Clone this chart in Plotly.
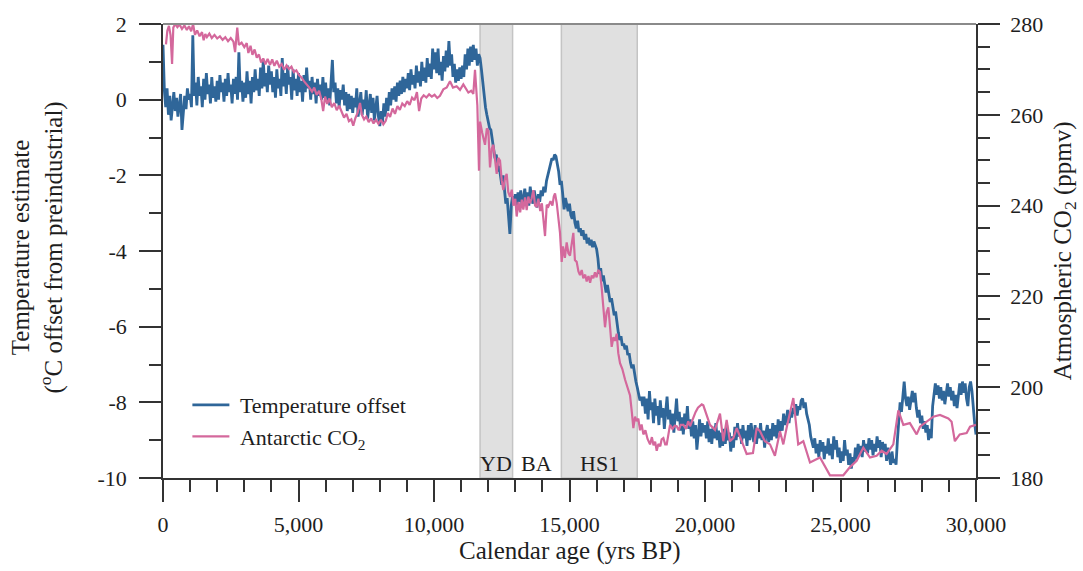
import plotly.graph_objects as go

# ---------------------------------------------------------------------------
# Temperature offset (deg C from preindustrial), sampled every 50 years
# ---------------------------------------------------------------------------
AGE_STEP = 50
temp_age = list(range(0, 30001, AGE_STEP))

temp_offset = [
    # 0 - 950
    1.45, 0.25, -0.2, 0.3, -0.4, 0.1, -0.55, -0.1, 0.2, -0.3, 0.05, -0.45, -0.1, 0.15, -0.8, -0.2, 0.1, -0.25, 0.3, 0.0,
    # 1000 - 1950
    0.15, -0.2, 1.7, 0.1, 0.45, -0.15, 0.6, 0.1, 0.35, -0.2, 0.55, 0.0, 0.7, 0.15, 0.4, -0.1, 0.6, 0.05, 0.35, -0.05,
    # 2000 - 2950
    0.5, 0.0, 0.65, 0.2, 0.45, -0.05, 0.55, 0.1, 0.7, 0.2, 0.4, -0.1, 0.55, 0.15, 0.6, 0.0, 1.25, 0.2, 0.5, -0.05,
    # 3000 - 3950
    0.45, 0.05, 0.75, 0.15, 0.5, -0.1, 0.6, 0.2, 0.8, 0.25, 0.55, 0.1, 0.85, 0.3, 1.05, 0.35, 0.7, 0.2, 0.9, 0.4,
    # 4000 - 4950
    0.75, 0.2, 0.6, 0.05, 0.8, 0.3, 0.55, 0.1, 1.1, 0.35, 0.7, 0.15, 0.9, 0.4, 0.6, 0.0, 0.8, 0.25, 0.55, 0.1,
    # 5000 - 5950
    0.7, 0.2, 0.5, -0.05, 0.65, 0.2, 0.85, 0.3, 0.5, 0.0, 0.6, 0.15, 0.45, -0.1, 0.55, 0.1, 0.4, 0.0, 0.6, 0.05,
    # 6000 - 6950
    0.45, -0.05, 0.3, -0.15, 0.5, 1.05, 0.2, 0.45, -0.1, 0.3, -0.2, 0.25, 0.0, 0.4, -0.15, 0.2, -0.3, 0.15, -0.25, 0.1,
    # 7000 - 7950
    -0.35, 0.05, -0.2, 0.3, -0.45, -0.05, 0.2, -0.4, 0.0, -0.25, 0.25, -0.5, -0.1, 0.15, -0.35, 0.05, -0.55, -0.2, 0.1, -0.45,
    # 8000 - 8950
    -0.7, -0.3, -0.6, -0.1, -0.45, 0.05, -0.3, 0.2, -0.15, 0.3, 0.0, 0.35, -0.05, 0.45, 0.1, 0.5, 0.15, 0.6, 0.2, 0.55,
    # 9000 - 9950
    0.3, 0.7, 0.25, 0.8, 0.4, 0.65, 0.3, 0.9, 0.45, 0.75, 0.35, 1.0, 0.5, 0.85, 0.45, 1.1, 0.6, 0.95, 0.55, 1.35,
    # 10000 - 10950
    0.8, 1.25, 0.7, 1.35, 0.65, 1.0, 0.5, 1.15, 0.75, 1.3, 0.85, 1.55, 0.9, 1.2, 0.6, 0.95, 0.45, 0.8, 0.5, 0.85,
    # 11000 - 11950
    0.55, 0.9, 0.6, 1.2, 0.8, 1.35, 0.9, 1.4, 1.0, 1.45, 1.05, 1.35, 0.9, 1.2, 1.1, 0.8, 0.45, 0.05, -0.2, -0.4,
    # 12000 - 12950
    -0.55, -0.75, -0.8, -1.1, -1.35, -1.55, -1.45, -1.9, -1.75, -2.05, -2.25, -2.0, -2.5, -2.75, -2.6, -3.1, -3.55, -2.8, -2.55, -2.75,
    # 13000 - 13950
    -2.5, -2.8, -2.45, -2.7, -2.4, -2.85, -2.55, -2.35, -2.7, -2.45, -2.8, -2.3, -2.6, -2.75, -2.4, -2.65, -2.85, -2.5, -2.7, -2.4,
    # 14000 - 14950
    -2.55, -2.3, -2.45, -2.15, -2.0, -1.85, -1.7, -1.55, -1.6, -1.45, -1.5, -1.7, -1.9, -2.25, -2.15, -2.5, -2.9, -2.6, -2.8, -2.95,
    # 15000 - 15950
    -2.75, -3.05, -3.15, -2.95, -3.25, -3.4, -3.2, -3.5, -3.4, -3.6, -3.45, -3.7, -3.55, -3.8, -3.65, -3.85, -3.7, -3.9, -3.75, -3.85,
    # 16000 - 16950
    -3.95, -4.2, -4.6, -4.45, -4.8, -4.65, -4.95, -5.1, -4.9, -5.2, -5.35, -5.25, -5.45, -5.7, -5.6, -5.95, -6.15, -6.35, -6.25, -6.5,
    # 17000 - 17950
    -6.45, -6.6, -6.5, -6.75, -6.7, -6.95, -7.1, -7.0, -7.3, -7.45, -7.6, -7.75, -7.95, -7.85, -8.1, -7.85, -8.3, -7.9, -8.45, -7.7,
    # 18000 - 18950
    -8.2, -8.0, -8.55, -7.9, -8.35, -8.1, -8.6, -7.95, -8.4, -8.15, -8.7, -8.25, -7.85, -8.45, -8.2, -8.65, -8.3, -8.8, -8.35, -7.9,
    # 19000 - 19950
    -8.5, -8.25, -8.75, -8.4, -8.85, -8.3, -8.6, -8.1, -8.7, -8.45, -8.9, -8.5, -8.95, -8.6, -9.25, -8.7, -8.45, -8.9, -8.55, -8.8,
    # 20000 - 20950
    -8.6, -8.95, -8.5, -9.05, -8.7, -9.1, -8.65, -8.95, -8.55, -9.0, -8.75, -9.2, -8.8, -9.15, -8.7, -9.1, -8.6, -9.0, -8.8, -9.3,
    # 21000 - 21950
    -8.9, -9.2, -8.65, -9.0, -8.55, -8.9, -8.7, -9.1, -8.6, -8.95, -8.75, -9.15, -8.6, -9.0, -8.55, -8.85, -9.05, -8.6, -9.1, -8.7,
    # 22000 - 22950
    -8.95, -8.55, -9.0, -8.75, -9.2, -8.8, -8.6, -9.05, -8.7, -9.0, -8.55, -8.9, -8.6, -8.95, -8.45, -8.8, -8.5, -8.75, -8.3, -8.6,
    # 23000 - 23950
    -8.45, -8.2, -8.55, -8.25, -8.4, -8.15, -8.3, -8.05, -8.35, -8.1, -8.2, -7.95, -7.9, -8.15, -8.0, -8.3, -8.45, -8.6, -8.9, -9.05,
    # 24000 - 24950
    -9.2, -8.95, -9.35, -9.1, -9.45, -9.0, -9.3, -9.05, -9.5, -9.15, -9.35, -8.95, -9.4, -9.1, -9.5, -8.9, -9.25, -9.0, -9.45, -9.2,
    # 25000 - 25950
    -9.6, -9.3, -9.55, -9.0, -9.4, -9.25, -9.65, -9.35, -9.75, -9.45, -9.6, -9.2, -9.5, -9.1, -9.4, -9.15, -9.45, -9.0, -9.3, -9.1,
    # 26000 - 26950
    -9.35, -8.95, -9.25, -9.0, -9.4, -9.1, -9.3, -8.9, -9.2, -9.0, -9.45, -9.05, -9.3, -9.1, -9.55, -9.2, -9.4, -9.65, -9.3, -9.6,
    # 27000 - 27950
    -9.5, -9.65, -9.0, -8.4, -8.0, -8.25, -7.7, -7.45, -7.9, -8.1, -7.85, -8.2, -7.95, -7.7, -8.0, -7.75, -8.15, -8.4, -8.2, -8.55,
    # 28000 - 28950
    -8.35, -8.7, -8.5, -8.8, -8.6, -9.0, -8.7, -8.95, -8.1, -7.7, -7.5, -7.8, -7.55, -7.9, -7.6, -7.95, -7.7, -8.05, -7.75, -7.5,
    # 29000 - 29950
    -7.85, -7.6, -7.95, -7.7, -8.1, -7.8, -8.15, -7.85, -7.5, -7.8, -7.45, -7.75, -7.5, -7.9, -8.1, -7.6, -7.45, -7.7, -8.2, -8.55,
    # 30000
    -8.85,
]

# ---------------------------------------------------------------------------
# Antarctic ice-core CO2 (ppmv) at the measured ages
# ---------------------------------------------------------------------------
co2_age = [
    110, 160, 220, 280, 335, 380, 450, 530, 610, 700, 790, 880, 960, 1040, 1110, 1180, 1260, 1350, 1440, 1500,
    1560, 1620, 1710, 1800, 1900, 2000, 2100, 2200, 2300, 2400, 2500, 2600, 2660, 2740, 2800, 2900, 3000, 3090, 3150, 3230,
    3300, 3380, 3460, 3540, 3620, 3700, 3780, 3860, 3950, 4030, 4110, 4200, 4290, 4380, 4470, 4560, 4650, 4740, 4830, 4920,
    5010, 5100, 5200, 5300, 5400, 5500, 5580, 5670, 5760, 5840, 5910, 5980, 6060, 6140, 6230, 6320, 6410, 6500, 6590, 6680,
    6770, 6860, 6950, 7020, 7100, 7180, 7270, 7340, 7420, 7500, 7590, 7680, 7770, 7860, 7950, 8040, 8130, 8220, 8300, 8380,
    8470, 8560, 8650, 8740, 8830, 8920, 9010, 9100, 9190, 9280, 9370, 9450, 9530, 9620, 9720, 9820, 9920, 10020, 10120, 10220,
    10344, 10470, 10590, 10700, 10836, 10960, 11082, 11180, 11267, 11370, 11451, 11513, 11600, 11660, 11700, 11780, 11882, 11950, 12005, 12067,
    12130, 12190, 12250, 12313, 12370, 12436, 12500, 12559, 12620, 12682, 12740, 12805, 12870, 12930, 13000, 13051, 13120, 13180, 13240, 13297,
    13360, 13420, 13480, 13543, 13600, 13666, 13730, 13789, 13850, 13920, 13980, 14035, 14097, 14160, 14220, 14300, 14370, 14420, 14466, 14530,
    14589, 14650, 14712, 14760, 14830, 14896, 14960, 15019, 15080, 15142, 15200, 15265, 15330, 15388, 15450, 15510, 15580, 15634, 15700, 15760,
    15820, 15880, 15940, 16000, 16060, 16126, 16188, 16250, 16311, 16370, 16434, 16500, 16557, 16620, 16680, 16742, 16800, 16865, 16950, 17049,
    17140, 17234, 17300, 17357, 17420, 17480, 17541, 17600, 17660, 17726, 17800, 17880, 17972, 18040, 18100, 18160, 18218, 18280, 18350, 18400,
    18464, 18530, 18587, 18650, 18710, 18800, 18880, 18956, 19030, 19100, 19202, 19300, 19380, 19448, 19550, 19650, 19740, 19817, 19880, 19938,
    20060, 20184, 20370, 20553, 20676, 20799, 20920, 21045, 21170, 21400, 21537, 21770, 21906, 22030, 22210, 22400, 22580, 22767, 22890, 23020,
    23259, 23440, 23628, 23874, 24243, 24612, 25104, 25350, 25596, 25842, 26088, 26334, 26519, 26700, 26949, 27134, 27318, 27560, 27810, 27933,
    28302, 28425, 28670, 28979, 29100, 29220, 29400, 29655, 29780, 30000,
]

co2_ppmv = [
    275.5, 278.5, 279.6, 277.5, 271.2, 279.2, 280.0, 279.3, 279.9, 278.9, 279.7, 278.7, 279.5, 278.4, 280.0, 277.6, 278.6, 277.3, 278.2, 276.4,
    277.8, 277.1, 277.9, 276.9, 277.6, 276.8, 277.3, 276.5, 277.1, 276.2, 276.9, 276.1, 273.8, 279.2, 275.4, 275.9, 274.9, 275.8, 273.6, 275.2,
    273.2, 274.4, 272.6, 273.3, 271.5, 272.4, 271.1, 272.3, 271.0, 272.2, 270.8, 271.9, 270.6, 271.2, 269.9, 270.9, 270.1, 270.6, 269.4, 269.8,
    268.8, 268.3, 267.4, 266.8, 266.0, 265.1, 266.0, 264.4, 265.3, 263.5, 260.8, 264.0, 262.4, 263.6, 261.7, 262.6, 261.0, 262.0, 260.6, 259.4,
    260.2, 258.6, 259.0, 257.6, 259.3, 260.4, 262.6, 260.0, 259.0, 259.6, 258.4, 259.2, 258.1, 258.9, 258.0, 258.9, 257.9, 258.7, 260.4, 259.5,
    261.4, 260.2, 261.9, 261.1, 262.5, 261.9, 263.0, 262.2, 263.8, 263.2, 265.0, 260.8, 263.6, 264.3, 263.8, 264.5, 264.0, 264.4, 263.7, 264.2,
    265.6, 266.0, 267.4, 266.0, 266.3, 265.5, 266.7, 265.8, 264.9, 265.3, 264.6, 269.9, 262.0, 247.7, 258.5, 256.0, 253.4, 257.0, 256.5, 248.4,
    252.5, 253.4, 249.5, 247.0, 250.5, 249.9, 245.5, 243.4, 246.0, 247.0, 243.0, 241.9, 243.5, 240.0, 241.5, 237.6, 240.8, 238.5, 241.3, 239.1,
    241.8, 239.0, 242.0, 240.5, 241.5, 243.4, 240.0, 239.8, 241.5, 238.8, 240.5, 237.6, 233.3, 240.2, 239.8, 241.0, 240.0, 242.0, 242.7, 240.5,
    237.6, 234.0, 227.6, 231.0, 228.5, 231.9, 229.5, 229.0, 231.5, 234.0, 228.0, 227.6, 225.5, 224.7, 225.8, 224.0, 224.8, 223.3, 224.5, 223.0,
    224.6, 224.0, 225.3, 224.2, 225.8, 225.4, 221.9, 218.0, 213.2, 216.5, 217.6, 213.0, 208.9, 211.0, 210.2, 211.8, 207.5, 205.3, 204.0, 201.7,
    200.0, 198.2, 194.5, 191.0, 193.5, 192.5, 193.1, 190.5, 191.8, 189.6, 190.5, 188.6, 187.4, 189.0, 187.2, 188.0, 186.0, 187.5, 187.0, 188.5,
    188.8, 187.4, 187.4, 189.8, 191.7, 190.8, 191.5, 191.4, 190.5, 191.7, 191.7, 190.8, 192.5, 191.4, 193.0, 194.5, 195.5, 196.0, 196.2, 196.0,
    193.9, 191.7, 190.6, 194.2, 188.1, 192.8, 188.1, 188.8, 191.0, 187.4, 185.3, 185.5, 191.0, 190.3, 188.1, 187.4, 184.9, 190.3, 187.4, 191.3,
    197.6, 187.4, 188.1, 183.4, 184.5, 180.6, 180.6, 182.4, 183.8, 186.7, 184.5, 184.9, 186.0, 185.3, 187.4, 194.9, 191.7, 192.1, 189.6, 191.3,
    192.8, 193.5, 193.9, 193.1, 192.4, 188.1, 189.6, 189.9, 191.3, 191.7,
]

# Climate intervals (years BP) and their labels
interval_spans = [(11700, 12900), (14700, 17500)]
interval_labels = ["YD", "BA", "HS1"]
interval_label_ages = [12300, 13800, 16100]

x_ticks = [0, 5000, 10000, 15000, 20000, 25000, 30000]
x_tick_text = ["0", "5,000", "10,000", "15,000", "20,000", "25,000", "30,000"]
temp_ticks = [-10, -8, -6, -4, -2, 0, 2]
temp_tick_text = ["-10", "-8", "-6", "-4", "-2", "0", "2"]
co2_ticks = [180, 200, 220, 240, 260, 280]

if len(temp_offset) != len(temp_age):
    raise ValueError("temperature series length does not match its age grid")
if len(co2_ppmv) != len(co2_age):
    raise ValueError("CO2 series length does not match its age list")

FONT = "Liberation Serif, Times New Roman, serif"
INK = "#1e1e1e"
AXIS = "#333333"
BLUE = "#2f6699"
PINK = "#d4689c"
NBSP = "\u00a0"

fig = go.Figure()
fig.add_trace(go.Scatter(
    x=temp_age, y=temp_offset, mode="lines", name=NBSP + "Temperature offset",
    line=dict(color=BLUE, width=2.8), yaxis="y",
))
fig.add_trace(go.Scatter(
    x=co2_age, y=co2_ppmv, mode="lines", name=NBSP + "Antarctic CO<sub>2</sub>",
    line=dict(color=PINK, width=2.2), yaxis="y2",
))

shapes = []
for x0, x1 in interval_spans:
    shapes.append(dict(
        type="rect", xref="x", yref="paper", x0=x0, x1=x1, y0=0, y1=1,
        fillcolor="#e0e0e0", line=dict(color="#c4c4c4", width=1.5), layer="below",
    ))
# grey frame line along the top of the plotting area
shapes.append(dict(
    type="line", xref="paper", yref="paper", x0=0, x1=1, y0=1, y1=1,
    line=dict(color="#8a8a8a", width=2),
))

annotations = []
for label, age in zip(interval_labels, interval_label_ages):
    annotations.append(dict(
        x=age, y=-9.62, xref="x", yref="y", text=label, showarrow=False,
        font=dict(family=FONT, size=22, color=INK), xanchor="center", yanchor="middle",
    ))
annotations += [
    dict(x=-0.1538, y=0.5075, xref="paper", yref="paper", textangle=-90,
         text="Temperature estimate<br>(<sup>o</sup>C offset from preindustrial)",
         showarrow=False, xanchor="center", yanchor="middle",
         font=dict(family=FONT, size=25, color=INK)),
    dict(x=1.1085, y=0.5, xref="paper", yref="paper", textangle=-90,
         text="Atmospheric CO<sub>2</sub> (ppmv)",
         showarrow=False, xanchor="center", yanchor="middle",
         font=dict(family=FONT, size=25, color=INK)),
    dict(x=0.4994, y=-0.16, xref="paper", yref="paper",
         text="Calendar age (yrs BP)", showarrow=False,
         xanchor="center", yanchor="middle",
         font=dict(family=FONT, size=25, color=INK)),
]

tick_font = dict(family=FONT, size=22, color=INK)

fig.update_layout(
    width=1083, height=571,
    margin=dict(l=163, r=107, t=13, b=93),
    paper_bgcolor="white", plot_bgcolor="white",
    showlegend=True,
    legend=dict(
        x=0.03, y=0.207, xanchor="left", yanchor="top",
        bgcolor="rgba(0,0,0,0)", font=dict(family=FONT, size=22, color=INK),
        itemwidth=37, tracegroupgap=0,
    ),
    xaxis=dict(
        range=[0, 30000], showgrid=False, zeroline=False,
        showline=True, linecolor=AXIS, linewidth=1.5,
        ticks="outside", ticklen=22, tickwidth=1.5, tickcolor=AXIS,
        tickmode="array", tickvals=x_ticks, ticktext=x_tick_text,
        minor=dict(ticks="outside", ticklen=12, tickwidth=1.5, tickcolor=AXIS,
                   tickmode="linear", tick0=0, dtick=1000, showgrid=False),
        tickfont=tick_font, ticklabelstandoff=4,
    ),
    yaxis=dict(
        range=[-10, 2], showgrid=False, zeroline=False,
        showline=True, linecolor=AXIS, linewidth=1.5,
        ticks="outside", ticklen=22, tickwidth=1.5, tickcolor=AXIS,
        tickmode="array", tickvals=temp_ticks, ticktext=temp_tick_text,
        minor=dict(ticks="outside", ticklen=12, tickwidth=1.5, tickcolor=AXIS,
                   tickmode="linear", tick0=-9, dtick=1, showgrid=False),
        tickfont=tick_font, ticklabelstandoff=8,
    ),
    yaxis2=dict(
        range=[180, 280], overlaying="y", side="right", anchor="x",
        showgrid=False, zeroline=False,
        showline=True, linecolor=AXIS, linewidth=1.5,
        ticks="outside", ticklen=22, tickwidth=1.5, tickcolor=AXIS,
        tickmode="array", tickvals=co2_ticks,
        minor=dict(ticks="outside", ticklen=12, tickwidth=1.5, tickcolor=AXIS,
                   tickmode="linear", tick0=180, dtick=5, showgrid=False),
        tickfont=tick_font, ticklabelstandoff=6,
    ),
    shapes=shapes,
    annotations=annotations,
)

fig.write_html("out.html")
